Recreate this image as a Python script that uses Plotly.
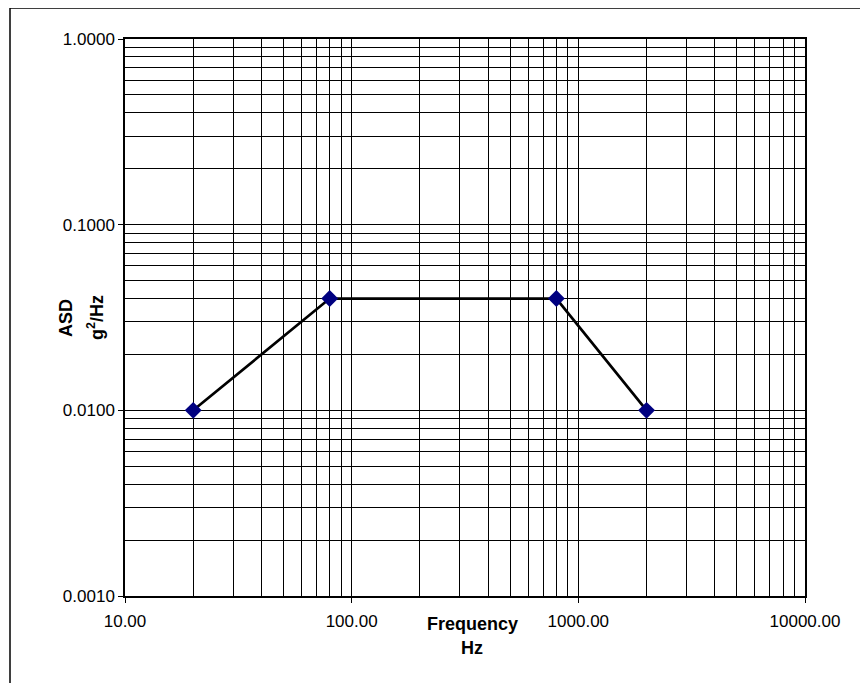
import plotly.graph_objects as go

freq = [20, 80, 800, 2000]
asd = [0.01, 0.04, 0.04, 0.01]

x_major = [10, 100, 1000, 10000]
x_major_text = ["10.00", "100.00", "1000.00", "10000.00"]
y_major = [0.001, 0.01, 0.1, 1]
y_major_text = ["0.0010", "0.0100", "0.1000", "1.0000"]

x_minor = [m * d for d in [10, 100, 1000] for m in range(2, 10)]
y_minor = [m * d for d in [0.001, 0.01, 0.1] for m in range(2, 10)]

W, H = 868, 683
OFF = 8  # page body margin
L, R, T, B = 125 - OFF, 805 - OFF, 39 - OFF, 596 - OFF

fig = go.Figure()
fig.add_trace(go.Scatter(
    x=freq, y=asd, mode="lines+markers",
    line=dict(color="black", width=2.7),
    marker=dict(symbol="diamond", size=13, color="#000080"),
    showlegend=False,
))

font = dict(family="Liberation Sans, Arial, sans-serif", size=17, color="black")

fig.update_xaxes(
    type="log", range=[1, 4],
    tickmode="array", tickvals=x_major, ticktext=x_major_text,
    ticks="outside", ticklen=5, tickcolor="black",
    showgrid=True, gridcolor="black", gridwidth=1,
    minor=dict(tickmode="array", tickvals=x_minor, showgrid=True, gridcolor="black", gridwidth=1, ticks=""),
    showline=True, linecolor="black", linewidth=1.5, mirror=True,
    zeroline=False, tickfont=font, ticklabelstandoff=4,
)
fig.update_yaxes(
    type="log", range=[-3, 0],
    tickmode="array", tickvals=y_major, ticktext=y_major_text,
    ticks="outside", ticklen=5, tickcolor="black",
    showgrid=True, gridcolor="black", gridwidth=1,
    minor=dict(tickmode="array", tickvals=y_minor, showgrid=True, gridcolor="black", gridwidth=1, ticks=""),
    showline=True, linecolor="black", linewidth=1.5, mirror=True,
    zeroline=False, tickfont=font,
)

def px_x(x):
    return (x - OFF - L) / (R - L)

def px_y(y):
    return (B - (y - OFF)) / (B - T)

bold = dict(family="Liberation Sans, Arial, sans-serif", size=18, color="black")
fig.add_annotation(text="<b>Frequency</b>", x=px_x(472), y=px_y(624), xref="paper", yref="paper",
                   showarrow=False, font=bold, xanchor="center", yanchor="middle")
fig.add_annotation(text="<b>Hz</b>", x=px_x(472), y=px_y(648), xref="paper", yref="paper",
                   showarrow=False, font=bold, xanchor="center", yanchor="middle")
fig.add_annotation(text="<b>ASD</b>", x=px_x(66), y=px_y(318), xref="paper", yref="paper",
                   showarrow=False, font=bold, xanchor="center", yanchor="middle", textangle=-90)
fig.add_annotation(text="<b>g<sup>2</sup>/Hz</b>", x=px_x(95), y=px_y(318), xref="paper", yref="paper",
                   showarrow=False, font=bold, xanchor="center", yanchor="middle", textangle=-90)

fig.add_shape(type="rect", xref="paper", yref="paper",
              x0=px_x(10), x1=px_x(890), y0=px_y(700), y1=px_y(8),
              line=dict(color="black", width=1.5), layer="below")

fig.update_layout(
    width=W, height=H,
    margin=dict(l=L, r=W - R, t=T, b=H - B),
    paper_bgcolor="white", plot_bgcolor="white",
    font=font,
)

fig.write_html("out.html")
